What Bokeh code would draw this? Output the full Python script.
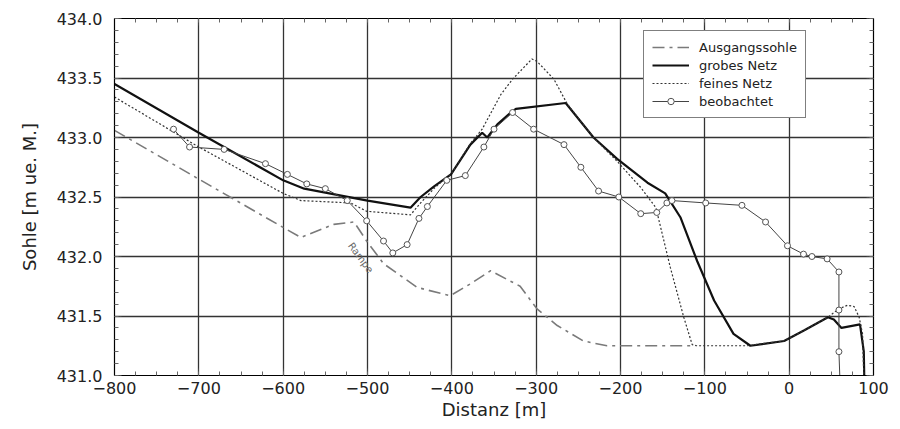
from bokeh.plotting import figure
from bokeh.models import (Range1d, LinearAxis, SingleIntervalTicker, NumeralTickFormatter,
                          CustomJSTickFormatter, Legend, LegendItem)
from bokeh.core.properties import value
from bokeh.embed import file_html
from bokeh.resources import INLINE

# ---- data ----
aus_x = [-800, -700, -599, -579, -540, -516, -501, -481, -441, -402, -378, -354, -319, -299, -275, -244, -216, -113]
aus_y = [433.06, 432.65, 432.24, 432.16, 432.27, 432.29, 432.13, 431.94, 431.74, 431.67, 431.77, 431.88, 431.75,
         431.56, 431.42, 431.29, 431.25, 431.25]

grob_x = [-800, -700, -600, -575, -500, -449, -437, -421, -401, -378, -364, -358, -346, -330, -324, -265, -232,
          -204, -168, -147, -129, -109, -89, -66, -46, -6, 18, 46, 53, 62, 84, 88.5, 89]
grob_y = [433.45, 433.04, 432.64, 432.57, 432.47, 432.41, 432.50, 432.59, 432.69, 432.94, 433.04, 433.00, 433.11,
          433.21, 433.24, 433.29, 433.00, 432.82, 432.62, 432.53, 432.33, 431.96, 431.63, 431.35, 431.25, 431.29,
          431.38, 431.49, 431.47, 431.40, 431.43, 431.20, 431.00]

fein_x = [-800, -700, -600, -579, -520, -501, -449, -437, -420, -400, -378, -364, -342, -328, -305, -299, -279,
          -263, -232, -204, -176, -158, -141, -125, -115, -110, -50, -6, 18, 46, 59, 69, 77, 83, 87, 88.5]
fein_y = [433.34, 432.92, 432.53, 432.47, 432.45, 432.38, 432.35, 432.45, 432.58, 432.70, 432.95, 433.07, 433.36,
          433.49, 433.66, 433.64, 433.49, 433.28, 433.00, 432.80, 432.58, 432.41, 431.91, 431.49, 431.26, 431.25,
          431.25, 431.29, 431.38, 431.49, 431.56, 431.59, 431.58, 431.49, 431.35, 431.00]

obs_x = [-730, -711, -670, -621, -595, -572, -550, -524, -501, -481, -470, -453, -439, -429, -406, -384, -362,
         -350, -328, -303, -267, -247, -226, -202, -176, -157, -145, -139, -99, -56, -28, -2, 17, 27, 45, 59, 59,
         59, 60]
obs_y = [433.07, 432.92, 432.90, 432.78, 432.69, 432.61, 432.57, 432.47, 432.30, 432.13, 432.03, 432.10, 432.32,
         432.42, 432.64, 432.68, 432.92, 433.07, 433.21, 433.07, 432.94, 432.75, 432.55, 432.50, 432.36, 432.37,
         432.45, 432.47, 432.45, 432.43, 432.29, 432.09, 432.02, 432.00, 431.98, 431.87, 431.55, 431.20, 431.00]

labels = ["Ausgangssohle", "grobes Netz", "feines Netz", "beobachtet"]
note_text = ["Rampe"]
note_x = [-508]
note_y = [431.99]

FONT = "DejaVu Sans"
GRID = "#333333"

p = figure(width=900, height=429, output_backend="svg", toolbar_location=None,
           x_range=Range1d(-800, 100), y_range=Range1d(431, 434),
           min_border_left=114, min_border_right=27, min_border_top=18, min_border_bottom=54,
           x_axis_label="Distanz [m]", y_axis_label="Sohle [m ue. M.]")
p.background_fill_color = "white"
p.border_fill_color = "white"
p.outline_line_color = "black"
p.outline_line_width = 1.2

xt = SingleIntervalTicker(interval=100, num_minor_ticks=4)
yt = SingleIntervalTicker(interval=0.5, num_minor_ticks=5)
p.xaxis.ticker = xt
p.yaxis.ticker = yt
p.xaxis.formatter = CustomJSTickFormatter(code="return tick < 0 ? '\\u2212' + Math.abs(tick) : String(tick);")
p.yaxis.formatter = NumeralTickFormatter(format="0.0")

for ax in (p.xaxis[0], p.yaxis[0]):
    ax.major_tick_in = 7
    ax.major_tick_out = 0
    ax.minor_tick_in = 4
    ax.minor_tick_out = 0
    ax.axis_line_color = "black"
    ax.major_tick_line_color = "#444"
    ax.minor_tick_line_color = "#666"
    ax.major_label_text_font = FONT
    ax.major_label_text_font_size = "16px"
    ax.major_label_text_color = "#222"
    ax.axis_label_text_font = FONT
    ax.axis_label_text_font_size = "18px"
    ax.axis_label_text_font_style = "normal"
    ax.axis_label_text_color = "#222"
p.xaxis.major_label_standoff = 6
p.yaxis.major_label_standoff = 12
p.xaxis.axis_label_standoff = 2
p.yaxis.axis_label_standoff = 14

blank = CustomJSTickFormatter(code="return '';")
for side, tk in (("above", xt), ("right", yt)):
    ax = LinearAxis(ticker=tk, formatter=blank, major_tick_in=7, major_tick_out=0,
                    minor_tick_in=4, minor_tick_out=0, axis_line_color="black",
                    major_tick_line_color="#444", minor_tick_line_color="#666",
                    major_label_standoff=0, major_label_text_font_size="8px")
    p.add_layout(ax, side)

p.xgrid.ticker = xt
p.ygrid.ticker = yt
p.grid.grid_line_color = GRID
p.grid.grid_line_width = 1.3

r_aus = p.line(aus_x, aus_y, line_color="#7a7a7a", line_width=1.6, line_dash="12 5 3 5")
r_grob = p.line(grob_x, grob_y, line_color="#111", line_width=2.2)
r_fein = p.line(fein_x, fein_y, line_color="#333", line_width=1.2, line_dash="2 2")
r_obs = p.line(obs_x, obs_y, line_color="#444", line_width=1.0)
r_obs_m = p.scatter(obs_x[:-1], obs_y[:-1], marker="circle", size=6, fill_color="white",
                    line_color="#555", line_width=1.0)

p.text(x=note_x, y=note_y, text=note_text, angle=-0.93, text_font=value(FONT),
       text_font_size="10px", text_color="#666", text_align="center", text_baseline="middle")

legend = Legend(items=[
    LegendItem(label=labels[0], renderers=[r_aus]),
    LegendItem(label=labels[1], renderers=[r_grob]),
    LegendItem(label=labels[2], renderers=[r_fein]),
    LegendItem(label=labels[3], renderers=[r_obs, r_obs_m]),
], location=(529, 257))
legend.label_text_font = FONT
legend.label_text_font_size = "13px"
legend.label_text_color = "#222"
legend.label_height = 16
legend.glyph_height = 16
legend.glyph_width = 37
legend.label_standoff = 10
legend.spacing = 2
legend.padding = 8
legend.margin = 0
legend.border_line_color = "black"
legend.border_line_width = 1
legend.background_fill_color = "white"
legend.background_fill_alpha = 1
p.add_layout(legend, "center")

open("out.html", "w").write(file_html(p, INLINE))
